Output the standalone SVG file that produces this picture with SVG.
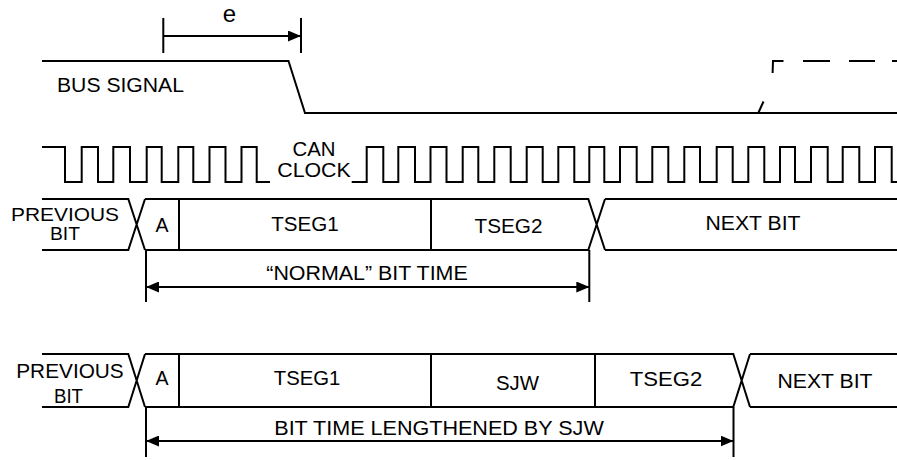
<svg xmlns="http://www.w3.org/2000/svg" width="897" height="460" viewBox="0 0 897 460">
<style>
  .ln { fill: none; stroke: #000; stroke-width: 2; stroke-linejoin: miter; stroke-linecap: butt; }
  .t { font-family: "Liberation Sans", Arial, sans-serif; font-size: 19.5px; fill: #000; }
  .s { font-size: 18px; }
  .m { text-anchor: middle; }
  .dim { fill: none; stroke: #000; stroke-width: 2; marker-start: url(#ah); marker-end: url(#ah); }
</style>
<defs>
  <marker id="ah" markerUnits="userSpaceOnUse" markerWidth="13" markerHeight="11" refX="13" refY="5.5" orient="auto-start-reverse" viewBox="0 0 13 11">
    <path d="M0,0 L13,5.5 L0,11 Z" fill="#000"/>
  </marker>
</defs>
<rect width="897" height="460" fill="#fff"/>

<g id="bus-signal">
  <path class="ln" d="M42,61 H288.5 L305,113 H897"/>
  <g class="ln">
    <path d="M758.3,113 L763.5,101.5"/>
    <path d="M772.6,73 L773,61 H783.5"/>
    <path d="M803,61 H830"/>
    <path d="M849,61 H875"/>
    <path d="M892,61 H897"/>
  </g>
  <text class="t" x="57" y="92" textLength="127" lengthAdjust="spacingAndGlyphs">BUS SIGNAL</text>
</g>

<g id="can-clock">
  <path class="ln" d="M42,147 H65 V182 H81.7 V147 H98 V182 H113.3 V147 H130 V182 H146.7 V147 H161.7 V182 H178.3 V147 H193.3 V182 H209.5 V147 H225.5 V182 H241.5 V147 H256.7 V182 H270"/>
  <path class="ln" d="M351.7,182 H366.7 V147 H383.3 V182 H398.3 V147 H415 V182 H430.5 V147 H446.5 V182 H462.7 V147 H478.3 V182 H494.3 V147 H510.7 V182 H526.7 V147 H542.7 V182 H558.3 V147 H574.3 V182 H589.3 V147 H604.3 V182 H620 V147 H636.7 V182 H652.3 V147 H668.3 V182 H684.3 V147 H700 V182 H716.7 V147 H732.7 V182 H748.3 V147 H764.3 V182 H780 V147 H795 V182 H811 V147 H827.7 V182 H842.7 V147 H859.3 V182 H875 V147 H891.7 V182 H897"/>
  <text class="t m" x="314" y="155.5" textLength="43" lengthAdjust="spacingAndGlyphs">CAN</text>
  <text class="t m" x="314" y="177" textLength="73.5" lengthAdjust="spacingAndGlyphs">CLOCK</text>
</g>

<g id="normal-bit">
  <g id="n-previous">
    <path class="ln" d="M42,199 H128.3 L145,250 M42,250 H128.3 L145,199"/>
    <text class="t s m" x="65" y="221" textLength="108" lengthAdjust="spacingAndGlyphs">PREVIOUS</text>
    <text class="t s m" x="65" y="240" textLength="30" lengthAdjust="spacingAndGlyphs">BIT</text>
  </g>
  <g id="n-frame">
    <path class="ln" d="M145,199 H588.3 L605,250 M145,250 H588.3 L605,199"/>
  </g>
  <g id="n-a">
    <path class="ln" d="M179,199 V250"/>
    <text class="t m" x="162" y="231.5">A</text>
  </g>
  <g id="n-tseg1">
    <path class="ln" d="M431,199 V250"/>
    <text class="t m" x="305" y="231" textLength="67.5" lengthAdjust="spacingAndGlyphs">TSEG1</text>
  </g>
  <g id="n-tseg2">
    <text class="t m" x="508.5" y="233" textLength="68" lengthAdjust="spacingAndGlyphs">TSEG2</text>
  </g>
  <g id="n-next">
    <path class="ln" d="M605,199 H897 M605,250 H897"/>
    <text class="t m" x="753" y="230" textLength="95" lengthAdjust="spacingAndGlyphs">NEXT BIT</text>
  </g>
</g>

<g id="long-bit">
  <g id="l-previous">
    <path class="ln" d="M42,354 H128.3 L145,407 M42,407 H128.3 L145,354"/>
    <text class="t m" x="70" y="378" textLength="107.5" lengthAdjust="spacingAndGlyphs">PREVIOUS</text>
    <text class="t m" x="68.5" y="403" textLength="29" lengthAdjust="spacingAndGlyphs">BIT</text>
  </g>
  <g id="l-frame">
    <path class="ln" d="M145,354 H733.3 L750,407 M145,407 H733.3 L750,354"/>
  </g>
  <g id="l-a">
    <path class="ln" d="M179,354 V407"/>
    <text class="t m" x="162" y="385">A</text>
  </g>
  <g id="l-tseg1">
    <path class="ln" d="M431,354 V407"/>
    <text class="t m" x="307" y="385" textLength="66.5" lengthAdjust="spacingAndGlyphs">TSEG1</text>
  </g>
  <g id="l-sjw">
    <path class="ln" d="M595,354 V407"/>
    <text class="t m" x="517.5" y="390" textLength="43" lengthAdjust="spacingAndGlyphs">SJW</text>
  </g>
  <g id="l-tseg2">
    <text class="t m" x="666" y="386" textLength="72.5" lengthAdjust="spacingAndGlyphs">TSEG2</text>
  </g>
  <g id="l-next">
    <path class="ln" d="M750,354 H897 M750,407 H897"/>
    <text class="t m" x="825" y="387.5" textLength="95" lengthAdjust="spacingAndGlyphs">NEXT BIT</text>
  </g>
</g>

<g id="connectors">
  <g id="e-dim">
    <path class="ln" d="M163.3,18 V53 M301,18 V53"/>
    <path class="ln" d="M163.3,36 H301" marker-end="url(#ah)"/>
    <text x="229.5" y="21.5" font-family="Liberation Sans, Arial, sans-serif" font-size="24" text-anchor="middle">e</text>
  </g>
  <g id="normal-dim">
    <path class="ln" d="M146,250 V302 M589.3,250 V302"/>
    <path class="dim" d="M146,287 H589.3"/>
    <text class="t m" x="367" y="280" textLength="201.5" lengthAdjust="spacingAndGlyphs">“NORMAL” BIT TIME</text>
  </g>
  <g id="long-dim">
    <path class="ln" d="M146,407 V457 M733.5,407 V457"/>
    <path class="dim" d="M146,441 H733.5"/>
    <text class="t m" x="439" y="435" textLength="329.5" lengthAdjust="spacingAndGlyphs">BIT TIME LENGTHENED BY SJW</text>
  </g>
</g>
</svg>
